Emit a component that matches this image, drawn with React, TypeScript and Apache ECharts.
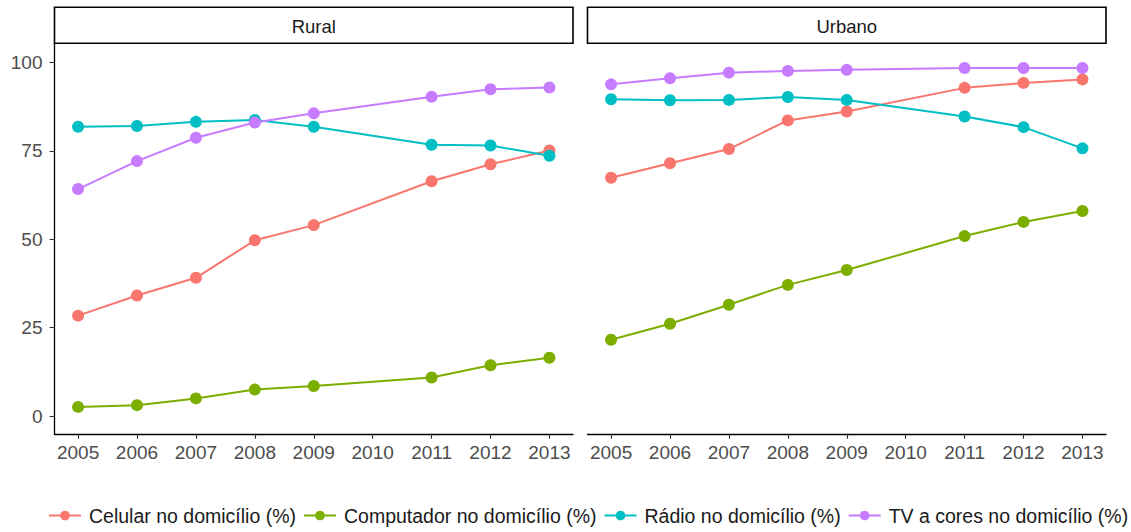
import React, { useEffect, useRef } from "react";
import * as echarts from "echarts";

const years = [2005, 2006, 2007, 2008, 2009, 2011, 2012, 2013];
const xTicks = [2005, 2006, 2007, 2008, 2009, 2010, 2011, 2012, 2013];
const yTicks = [0, 25, 50, 75, 100];
const panels = ["Rural", "Urbano"];
const seriesNames = [
  "Celular no domicílio (%)",
  "Computador no domicílio (%)",
  "Rádio no domicílio (%)",
  "TV a cores no domicílio (%)",
];
const colors = ["#F8766D", "#7CAE00", "#00BFC4", "#C77CFF"];

const ruralCelular = [28.4, 34.1, 39.1, 49.7, 54.0, 66.4, 71.2, 75.1];
const ruralComputador = [2.6, 3.1, 5.0, 7.5, 8.5, 10.9, 14.4, 16.5];
const ruralRadio = [81.8, 82.0, 83.2, 83.7, 81.8, 76.7, 76.5, 73.6];
const ruralTV = [64.2, 72.1, 78.7, 83.0, 85.6, 90.3, 92.4, 92.9];

const urbanoCelular = [67.4, 71.5, 75.5, 83.6, 86.1, 92.8, 94.2, 95.2];
const urbanoComputador = [21.6, 26.1, 31.5, 37.1, 41.3, 50.9, 54.9, 58.0];
const urbanoRadio = [89.6, 89.3, 89.4, 90.2, 89.4, 84.7, 81.7, 75.7];
const urbanoTV = [93.8, 95.5, 97.1, 97.6, 97.9, 98.4, 98.4, 98.4];

const panelData = [
  [ruralCelular, ruralComputador, ruralRadio, ruralTV],
  [urbanoCelular, urbanoComputador, urbanoRadio, urbanoTV],
];

const FONT = "Liberation Sans, Arial, sans-serif";

export default function App() {
  const ref = useRef<HTMLDivElement>(null);
  useEffect(() => {
    document.body.style.margin = "0";
    if (!ref.current) return;
    const chart = echarts.init(ref.current, undefined, { renderer: "svg" });

    const gridLefts = [54.5, 587.5];
    const gridWidth = 518.5;
    const gridTop = 43.3;
    const gridHeight = 390.5;

    const grids = gridLefts.map((l) => ({
      left: l,
      top: gridTop,
      width: gridWidth,
      height: gridHeight,
      containLabel: false,
    }));

    const xAxes = gridLefts.map((_, i) => ({
      type: "value",
      gridIndex: i,
      min: 2004.6,
      max: 2013.4,
      splitLine: { show: false },
      axisLine: { show: true, onZero: false, lineStyle: { color: "#000", width: 1.3 } },
      axisTick: {
        show: true,
        customValues: xTicks,
        length: 5,
        lineStyle: { color: "#333", width: 1.1 },
      },
      axisLabel: {
        customValues: xTicks,
        color: "#4D4D4D",
        fontSize: 19,
        fontFamily: FONT,
        margin: 9,
        formatter: (v: number) => String(v),
      },
    }));

    const yAxes = gridLefts.map((_, i) => ({
      type: "value",
      gridIndex: i,
      min: -5,
      max: 105.4,
      splitLine: { show: false },
      axisLine: { show: i === 0, onZero: false, lineStyle: { color: "#000", width: 1.3 } },
      axisTick: {
        show: i === 0,
        customValues: yTicks,
        length: 5,
        lineStyle: { color: "#333", width: 1.1 },
      },
      axisLabel: {
        show: i === 0,
        customValues: yTicks,
        color: "#4D4D4D",
        fontSize: 19,
        fontFamily: FONT,
        margin: 12,
      },
    }));

    const series: any[] = [];
    panelData.forEach((arrs, p) => {
      arrs.forEach((vals, s) => {
        series.push({
          name: seriesNames[s],
          type: "line",
          xAxisIndex: p,
          yAxisIndex: p,
          data: years.map((y, k) => [y, vals[k]]),
          symbol: "circle",
          symbolSize: 12,
          itemStyle: { color: colors[s] },
          lineStyle: { color: colors[s], width: 2 },
          emphasis: { disabled: true },
        });
      });
    });

    const graphics: any[] = [];
    panels.forEach((name, i) => {
      graphics.push({
        type: "rect",
        shape: { x: gridLefts[i], y: 7.3, width: gridWidth, height: 36 },
        style: { fill: "#fff", stroke: "#000", lineWidth: 1.6 },
        z: 10,
      });
      graphics.push({
        type: "text",
        x: gridLefts[i] + gridWidth / 2,
        y: 26,
        style: {
          text: name,
          fill: "#1A1A1A",
          font: `18.5px ${FONT}`,
          align: "center",
          verticalAlign: "middle",
        },
        z: 11,
      });
    });

    chart.setOption({
      animation: false,
      backgroundColor: "#fff",
      grid: grids,
      xAxis: xAxes,
      yAxis: yAxes,
      series,
      graphic: graphics,
      legend: {
        data: seriesNames,
        left: 48,
        top: 505.5,
        width: 1400,
        padding: 0,
        itemWidth: 32,
        itemHeight: 12,
        itemGap: 7,
        selectedMode: false,
        textStyle: {
          fontSize: 19.5,
          fontFamily: FONT,
          color: "#1A1A1A",
          padding: [0, 0, 0, 3],
        },
      },
    });
    return () => chart.dispose();
  }, []);
  return <div ref={ref} style={{ width: 1131, height: 532 }} />;
}
